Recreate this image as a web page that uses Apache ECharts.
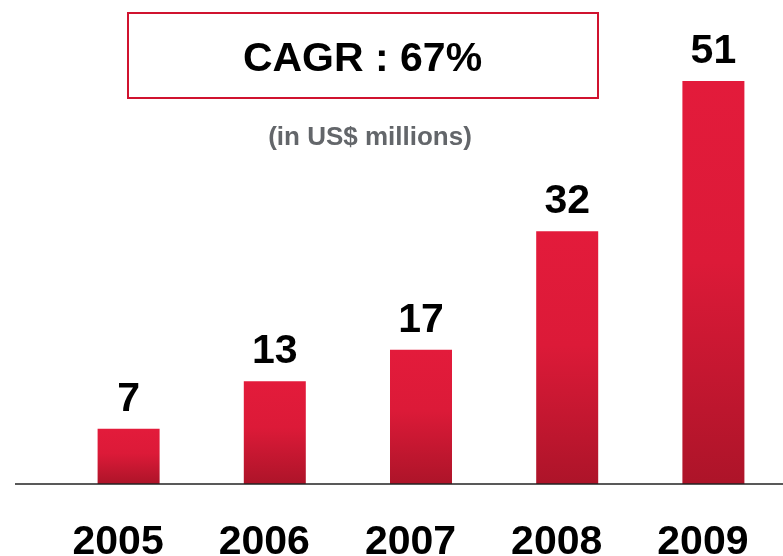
<!DOCTYPE html>
<html>
<head>
<meta charset="utf-8">
<script src="https://cdn.jsdelivr.net/npm/echarts@6/dist/echarts.min.js"></script>
<style>
html,body{margin:0;padding:0;background:#fff;}
#chart{width:783px;height:556px;}
</style>
</head>
<body>
<div id="chart"></div>
<script>
const years = ['2005', '2006', '2007', '2008', '2009'];
const revenue = [7, 13, 17, 32, 51];
const titleText = 'CAGR : 67%';
const subtitleText = '(in US$ millions)';

const chart = echarts.init(document.getElementById('chart'));
const FONT = '"Liberation Sans", Arial, sans-serif';
chart.setOption({
  backgroundColor: '#ffffff',
  animation: false,
  grid: { left: 55.5, width: 731, top: 10, bottom: 72, containLabel: false, outerBoundsMode: 'none' },
  xAxis: {
    type: 'category',
    data: years,
    axisLine: { show: false },
    axisTick: { show: false },
    axisLabel: {
      margin: 38,
      color: '#000000',
      fontFamily: FONT,
      fontWeight: 'bold',
      fontSize: 41,
      lineHeight: 41,
      padding: [0, 21, 0, 0]
    }
  },
  yAxis: {
    type: 'value',
    min: 0,
    max: 60,
    show: false,
    splitLine: { show: false }
  },
  series: [{
    type: 'bar',
    data: revenue,
    barWidth: 62,
    itemStyle: {
      color: new echarts.graphic.LinearGradient(0, 0, 0, 1, [
        { offset: 0, color: '#e31b3b' },
        { offset: 0.45, color: '#dc1a38' },
        { offset: 1, color: '#ad1429' }
      ])
    },
    label: {
      show: true,
      position: 'top',
      distance: 9,
      color: '#000000',
      fontFamily: FONT,
      fontWeight: 'bold',
      fontSize: 41,
      lineHeight: 41
    }
  }],
  graphic: [
    {
      type: 'line',
      shape: { x1: 15, y1: 484, x2: 783, y2: 484 },
      style: { stroke: '#222222', lineWidth: 1.5 },
      z: 10
    },
    {
      type: 'rect',
      shape: { x: 128, y: 13, width: 470, height: 85 },
      style: { fill: 'none', stroke: '#d0132f', lineWidth: 2 }
    },
    {
      type: 'text',
      x: 362.5,
      y: 60,
      style: {
        text: titleText,
        fill: '#000000',
        font: 'bold 41px "Liberation Sans", Arial, sans-serif',
        textAlign: 'center',
        textVerticalAlign: 'middle'
      }
    },
    {
      type: 'text',
      x: 370,
      y: 138,
      style: {
        text: subtitleText,
        fill: '#63666a',
        font: 'bold 26px "Liberation Sans", Arial, sans-serif',
        textAlign: 'center',
        textVerticalAlign: 'middle'
      }
    }
  ]
});
</script>
</body>
</html>
